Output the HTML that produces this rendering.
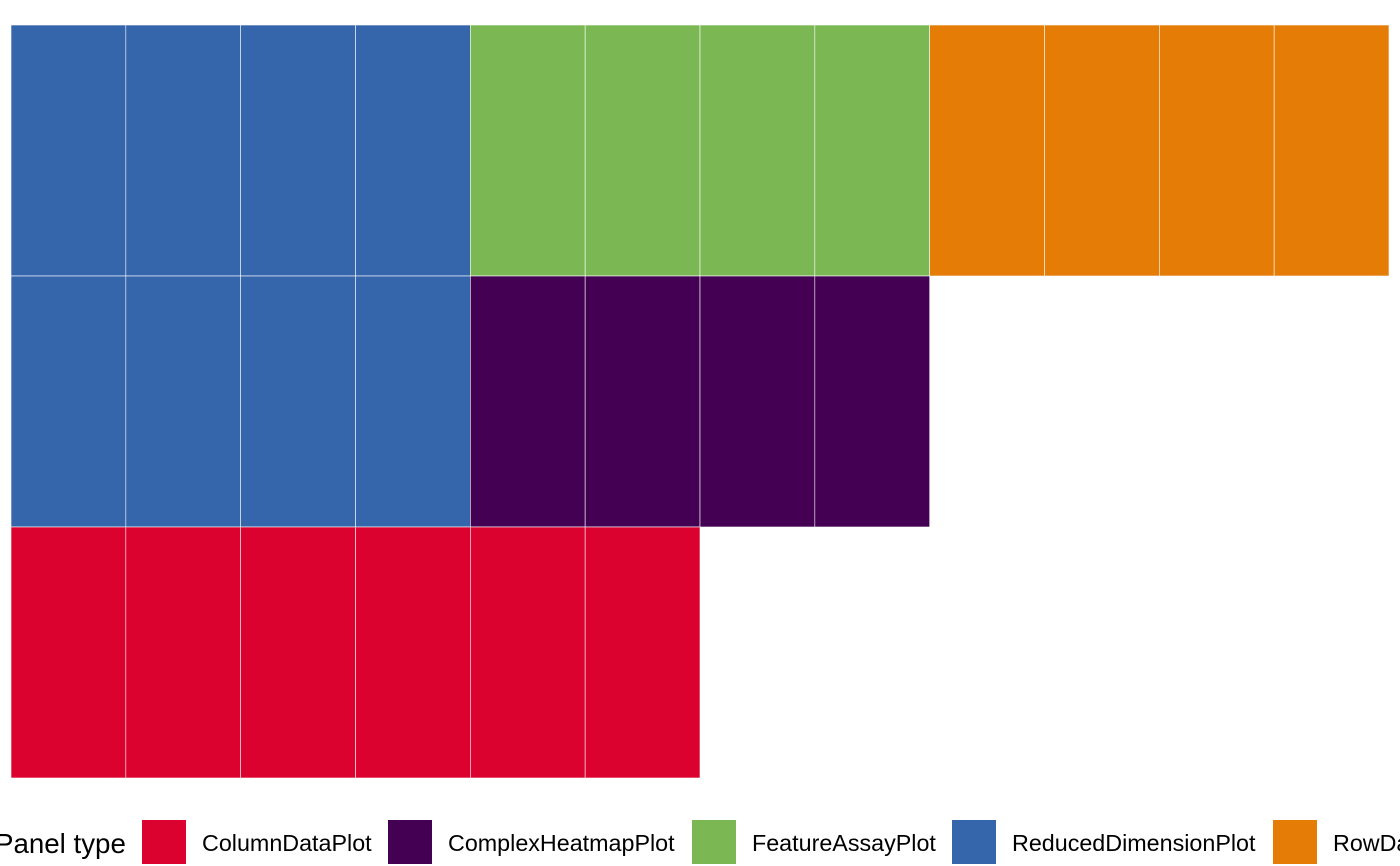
<!DOCTYPE html>
<html><head><meta charset="utf-8"><style>
html,body{margin:0;padding:0;background:#fff;width:1400px;height:866px;overflow:hidden}
svg{display:block}
</style></head><body>
<svg id="chart" width="1400" height="866">
<g id="tiles"></g>
<g id="legend">
<text x="-5" y="853" font-family="Liberation Sans, sans-serif" font-size="27.7" fill="#000">Panel type</text>
</g>
</svg>
<script>
const panelTypes = ["ColumnDataPlot","ComplexHeatmapPlot","FeatureAssayPlot","ReducedDimensionPlot","RowDataPlot"];
const typeColors = ["#DB0230","#440154","#7BB854","#3565AA","#E47C05"];
const tileRows = [0,0,0,0,0,0,0,0,0,0,0,0, 1,1,1,1,1,1,1,1, 2,2,2,2,2,2];
const tileCols = [0,1,2,3,4,5,6,7,8,9,10,11, 0,1,2,3,4,5,6,7, 0,1,2,3,4,5];
const tileTypes = [3,3,3,3,2,2,2,2,4,4,4,4, 3,3,3,3,1,1,1,1, 0,0,0,0,0,0];
const legendX = [142,388,692,952,1273];

const NS="http://www.w3.org/2000/svg";
const x0=11, x1=1389, nCols=12, y0=25, y1=778, nRows=3;
const cw=(x1-x0)/nCols, rh=(y1-y0)/nRows;
const xs=c=>x0+c*cw, ys=r=>y0+r*rh;
const tg=document.getElementById('tiles');
for(let i=0;i<tileRows.length;i++){
  const r=document.createElementNS(NS,'rect');
  r.setAttribute('x',xs(tileCols[i]));r.setAttribute('y',ys(tileRows[i]));
  r.setAttribute('width',cw);r.setAttribute('height',rh);
  r.setAttribute('fill',typeColors[tileTypes[i]]);
  r.setAttribute('stroke','#fff');r.setAttribute('stroke-width','0.6');
  
  
  tg.appendChild(r);
}
const lg=document.getElementById('legend');
for(let i=0;i<panelTypes.length;i++){
  const r=document.createElementNS(NS,'rect');
  r.setAttribute('x',legendX[i]);r.setAttribute('y',820);
  r.setAttribute('width',44);r.setAttribute('height',44);
  r.setAttribute('fill',typeColors[i]);
  
  
  lg.appendChild(r);
  const t=document.createElementNS(NS,'text');
  t.setAttribute('x',legendX[i]+60);t.setAttribute('y',851);
  t.setAttribute('font-family','Liberation Sans, sans-serif');
  t.setAttribute('font-size','23.3');
  t.textContent=panelTypes[i];
  
  
  lg.appendChild(t);
}
</script>
</body></html>
